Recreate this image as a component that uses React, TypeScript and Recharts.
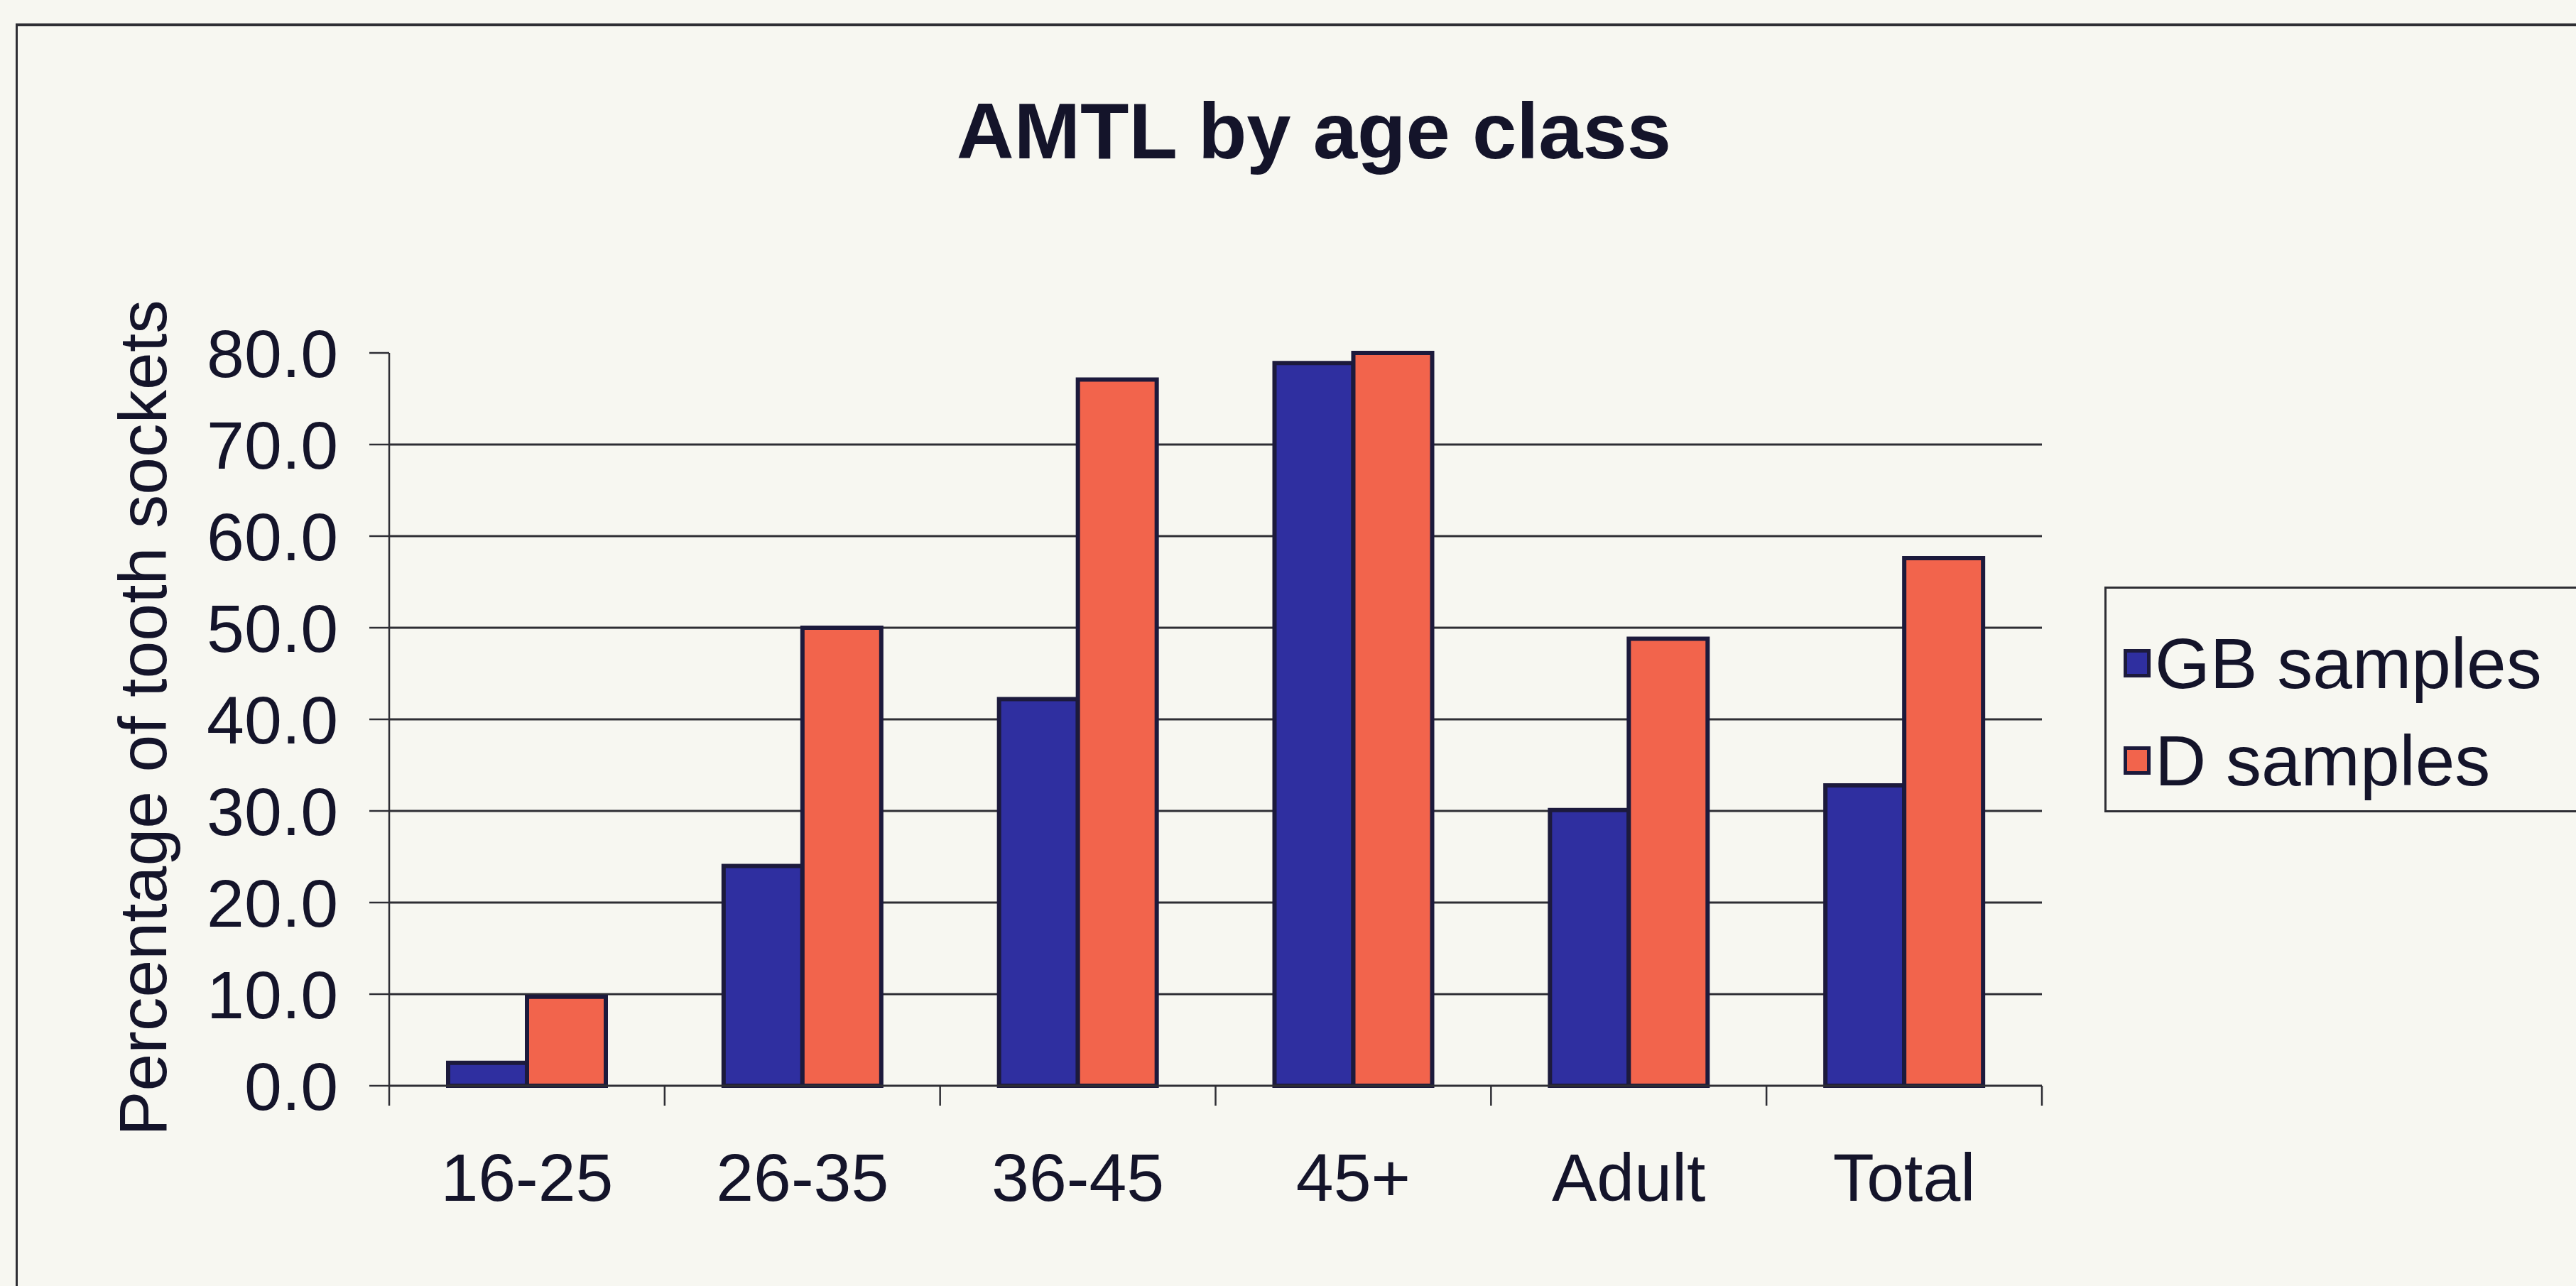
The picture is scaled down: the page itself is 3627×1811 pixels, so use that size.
import { BarChart, Bar, XAxis, YAxis, CartesianGrid, Legend } from 'recharts'

const categories = ['16-25', '26-35', '36-45', '45+', 'Adult', 'Total']
const gbSamples = [2.5, 24.0, 42.2, 78.9, 30.1, 32.8]
const dSamples = [9.7, 50.0, 77.1, 80.0, 48.8, 57.6]
const yTicks = [0, 10, 20, 30, 40, 50, 60, 70, 80]
const gridValues = [10, 20, 30, 40, 50, 60, 70]
const seriesNames = ['GB samples', 'D samples']
const seriesColors = ['#2f2fa0', '#f2644c']

const data = categories.map((c, i) => ({ age: c, gb: gbSamples[i], d: dSamples[i] }))

const BG = '#f7f7f1'
const INK = '#14142a'
const LINE = '#2e2e34'
const EDGE = '#1c1a3c'
const FONT = '"Liberation Sans", Arial, sans-serif'

function AgeTick(props: any) {
  const { x, y, payload, width } = props
  const half = payload.offset || width / categories.length / 2
  const last = payload.value === categories[categories.length - 1]
  return (
    <g>
      <line x1={x - half} x2={x - half} y1={y} y2={y + 28} stroke={LINE} strokeWidth={2.5} />
      {last && <line x1={x + half} x2={x + half} y1={y} y2={y + 28} stroke={LINE} strokeWidth={2.5} />}
      <text x={x} y={y + 162} textAnchor="middle" fontSize={95} fill={INK} fontFamily={FONT}>
        {payload.value}
      </text>
    </g>
  )
}

// legend drawn in series order (GB first), like the original
function LegendBox() {
  return (
    <div style={{ border: `3.5px solid ${LINE}`, height: 318, boxSizing: 'border-box', background: BG, position: 'relative' }}>
      {seriesNames.map((name, i) => (
        <div key={name} style={{ position: 'absolute', left: 24, top: 50 + i * 137, height: 110, display: 'flex', alignItems: 'center' }}>
          <span style={{ width: 28, height: 30, background: seriesColors[i], border: `5px solid ${EDGE}`, display: 'inline-block' }} />
          <span style={{ marginLeft: 6, fontSize: 100, fontFamily: FONT, color: INK, lineHeight: 1 }}>{name}</span>
        </div>
      ))}
    </div>
  )
}

export default function App() {
  return (
    <div style={{ position: 'fixed', left: 0, top: 0, width: 3627, height: 1811, background: BG, overflow: 'hidden', fontFamily: FONT }}>
      <div style={{ position: 'absolute', left: 22, top: 33, width: 3700, height: 1900, borderLeft: `3px solid ${LINE}`, borderTop: `4px solid ${LINE}` }} />
      <span style={{ position: 'absolute', left: 1850, top: 120, transform: 'translateX(-50%)', fontSize: 112, fontWeight: 'bold', color: INK, whiteSpace: 'nowrap' }}>
        AMTL by age class
      </span>
      <div style={{ position: 'absolute', left: 201, top: 1011, transform: 'translate(-50%, -50%) rotate(-90deg)', fontSize: 95, color: INK, whiteSpace: 'nowrap' }}>
        Percentage of tooth sockets
      </div>
      <div style={{ position: 'absolute', left: 0, top: 0 }}>
        <BarChart
          width={3627}
          height={1811}
          data={data}
          margin={{ top: 497, right: 752, left: 248, bottom: 82 }}
          barCategoryGap="21.4%"
          barGap={0}
        >
          <CartesianGrid vertical={false} horizontalValues={gridValues} stroke={LINE} strokeWidth={3} />
          <XAxis
            dataKey="age"
            height={200}
            axisLine={{ stroke: LINE, strokeWidth: 3 }}
            tickLine={false}
            tickSize={0}
            tickMargin={0}
            interval={0}
            tick={<AgeTick />}
          />
          <YAxis
            width={300}
            domain={[0, 80]}
            ticks={yTicks}
            interval={0}
            tickFormatter={(v: number) => v.toFixed(1)}
            axisLine={{ stroke: LINE, strokeWidth: 2.5 }}
            tickLine={{ stroke: LINE, strokeWidth: 2.5 }}
            tickSize={28}
            tickMargin={44}
            tick={{ fontSize: 95, fill: INK, fontFamily: FONT }}
          />
          <Legend
            layout="vertical"
            align="center"
            verticalAlign="middle"
            wrapperStyle={{ left: 2963, top: 826, width: 720, height: 318 }}
            content={<LegendBox />}
          />
          <Bar dataKey="gb" name={seriesNames[0]} fill={seriesColors[0]} stroke={EDGE} strokeWidth={6} isAnimationActive={false} />
          <Bar dataKey="d" name={seriesNames[1]} fill={seriesColors[1]} stroke={EDGE} strokeWidth={6} isAnimationActive={false} />
        </BarChart>
      </div>
    </div>
  )
}
